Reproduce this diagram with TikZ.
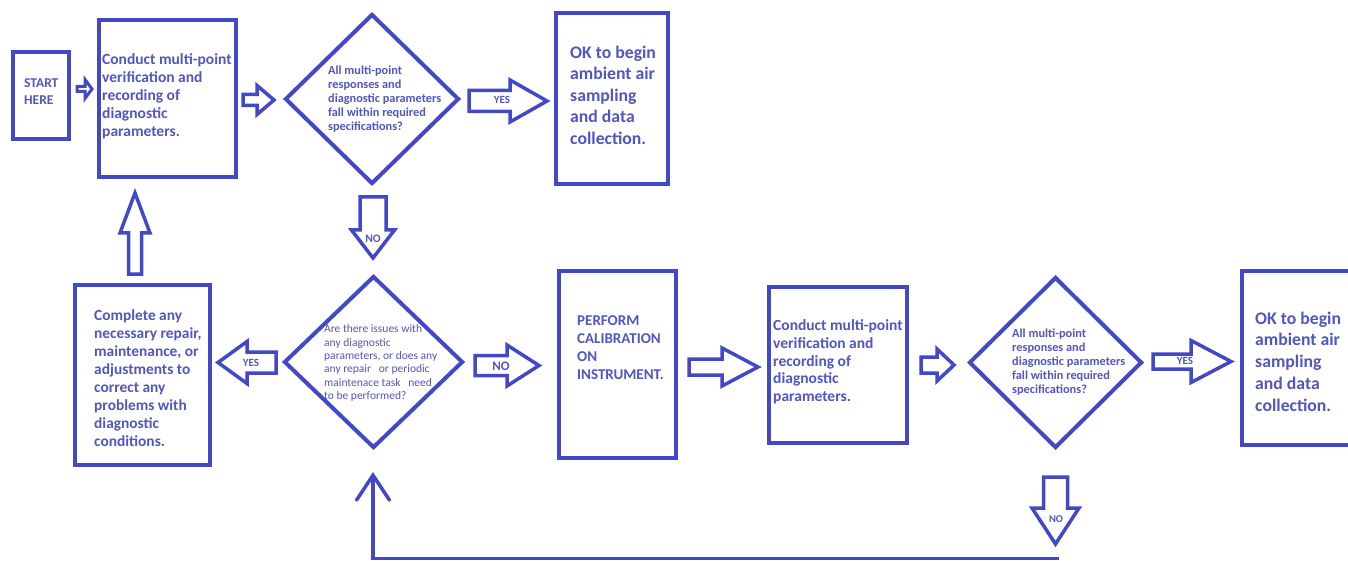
\documentclass[tikz,border=0pt]{standalone}
\usepackage{fontspec}
\setmainfont{Carlito}
\usetikzlibrary{shapes.geometric,arrows.meta}
\definecolor{flow}{RGB}{66,72,200}
\definecolor{flowtext}{RGB}{80,86,196}

% block arrow pointing left or right: tail x, tip x, centre y, shaft half width, head half width, head base x
\newcommand\harr[6]{%
  \draw[blk] (#1,#3-#4) -- (#6,#3-#4) -- (#6,#3-#5) -- (#2,#3) -- (#6,#3+#5) -- (#6,#3+#4) -- (#1,#3+#4) -- cycle;}
% block arrow pointing up or down: centre x, tail y, tip y, shaft half width, head half width, head base y
\newcommand\varr[6]{%
  \draw[blk] (#1-#4,#2) -- (#1-#4,#6) -- (#1-#5,#6) -- (#1,#3) -- (#1+#5,#6) -- (#1+#4,#6) -- (#1+#4,#2) -- cycle;}

\begin{document}
\begin{tikzpicture}[x=1pt,y=-1pt,
  box/.style={draw=flow,line width=4pt,rectangle,inner sep=0pt},
  decision/.style={draw=flow,line width=4pt,diamond,inner sep=0pt},
  blk/.style={draw=flow,line width=3.5pt,fill=white,line join=miter},
  txt/.style={text=flowtext,align=left,anchor=west,inner sep=0pt},
  lbl/.style={text=flowtext,inner sep=0pt,font=\bfseries\fontsize{11}{12}\selectfont}]

\useasboundingbox[fill=white] (0,0) rectangle (1348,561);

% boxes
\node[box,minimum width=56pt,minimum height=87pt]   (start)    at (41,95.5) {};
\node[box,minimum width=137pt,minimum height=157pt] (verify1)  at (167.5,98.5) {};
\node[box,minimum width=112pt,minimum height=171pt] (okA)      at (612,98.5) {};
\node[box,minimum width=135pt,minimum height=180pt] (repair)   at (142.5,375) {};
\node[box,minimum width=117pt,minimum height=187pt] (calib)    at (617.5,364.5) {};
\node[box,minimum width=138pt,minimum height=156pt] (verify2)  at (838,365) {};
\node[box,minimum width=118pt,minimum height=174pt] (okB)      at (1301,358) {};

% decisions
\node[decision,minimum width=174pt,minimum height=170pt] (check1) at (372,99) {};
\node[decision,minimum width=179pt,minimum height=172pt] (issues) at (373.5,362) {};
\node[decision,minimum width=173pt,minimum height=171pt] (check2) at (1055.5,362.5) {};

% texts
\node[txt,font=\bfseries\fontsize{13.5}{17}\selectfont] (startT) at (24,91.5) {START\\HERE};
\node[txt,font=\bfseries\fontsize{15.5}{18}\selectfont] (verify1T) at (102,96)
  {Conduct multi-point\\verification and\\recording of\\diagnostic\\parameters.};
\node[txt,font=\bfseries\fontsize{12.3}{14}\selectfont] (check1T) at (328,99)
  {All multi-point\\responses and\\diagnostic parameters\\fall within required\\specifications?};
\node[txt,font=\bfseries\fontsize{17.7}{21.5}\selectfont] (okAT) at (570,95)
  {OK to begin\\ambient air\\sampling\\and data\\collection.};
\node[txt,font=\fontsize{11.5}{13.3}\selectfont] (issuesT) at (324,363)
  {Are there issues with\\any diagnostic\\parameters, or does any\\any repair\ \ \ or periodic\\maintenace task\ \ \ need\\to be performed?};
\node[txt,font=\bfseries\fontsize{15.4}{18}\selectfont] (repairT) at (94,378)
  {Complete any\\necessary repair,\\maintenance, or\\adjustments to\\correct any\\problems with\\diagnostic\\conditions.};
\node[txt,font=\bfseries\fontsize{15}{18}\selectfont] (calibT) at (577,347.5)
  {PERFORM\\CALIBRATION\\ON\\INSTRUMENT.};
\node[txt,font=\bfseries\fontsize{15.5}{17.7}\selectfont] (verify2T) at (773,362)
  {Conduct multi-point\\verification and\\recording of\\diagnostic\\parameters.};
\node[txt,font=\bfseries\fontsize{12.3}{14}\selectfont] (check2T) at (1012,362)
  {All multi-point\\responses and\\diagnostic parameters\\fall within required\\specifications?};
\node[txt,font=\bfseries\fontsize{17.7}{21.8}\selectfont] (okBT) at (1255,361.5)
  {OK to begin\\ambient air\\sampling\\and data\\collection.};

% block arrows
\begin{scope}[blk/.append style={line width=3pt}]
\harr{77}{92}{89}{2.5}{9.5}{85}
\end{scope}
\harr{243}{274}{100}{5.5}{14.5}{257}
\harr{469}{547}{101}{10.5}{21}{510}
\varr{373}{197}{258}{13}{21.5}{230}
\harr{276}{218}{362.5}{10.5}{21}{247}
\varr{135}{274}{193}{6.5}{15}{233}
\harr{475}{539}{365.5}{10}{20.5}{507}
\harr{689}{758}{367}{8}{19}{722}
\harr{921}{954}{365}{8}{16}{937}
\harr{1153}{1231}{361.5}{7.5}{21}{1191}
\varr{1055.5}{477}{544}{12}{23.5}{508}

% arrow labels
\node[lbl] (yes1) at (502,100) {YES};
\node[lbl,font=\bfseries\fontsize{11.5}{12}\selectfont] (no1) at (373,239) {NO};
\node[lbl] (yes2) at (251,363) {YES};
\node[lbl,font=\bfseries\fontsize{13}{14}\selectfont] (no2) at (501,366) {NO};
\node[lbl] (yes3) at (1185,361) {YES};
\node[lbl,font=\bfseries\fontsize{10.5}{12}\selectfont] (no3) at (1056,519) {NO};

% return path to the issues check
\coordinate (loopStart) at (1059,558.5);
\coordinate (loopCorner) at (373,558.5);
\coordinate (loopTip) at (373,472);
\draw[flow,line width=3.5pt,-{Straight Barb[length=25pt,width=33pt,line cap=round]}]
  (loopStart) -- (loopCorner) -- (loopTip);
\end{tikzpicture}
\end{document}
